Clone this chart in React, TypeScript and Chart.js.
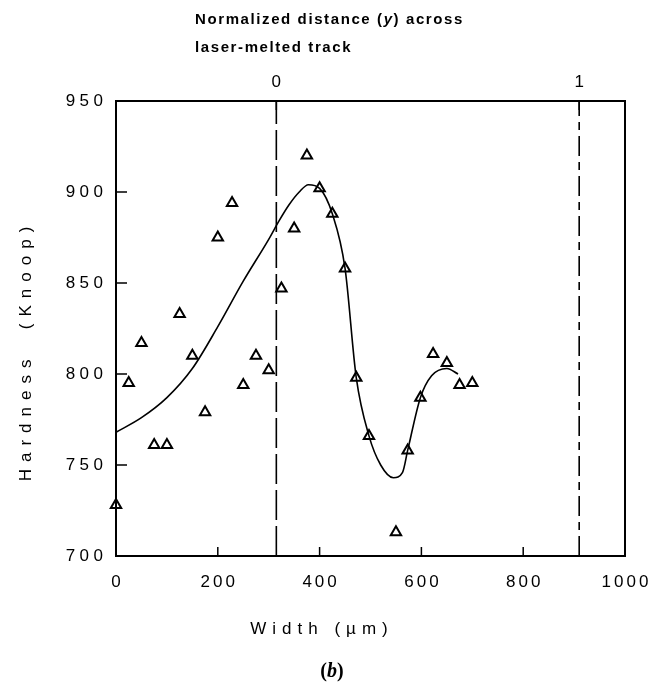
import React, { useEffect, useRef } from 'react';
import { Chart, registerables } from 'chart.js';

Chart.register(...registerables);

// Measured Knoop hardness across the laser-melted track
const widthUm = [0, 25, 50, 75, 100, 125, 150, 175, 200, 228, 250, 275, 300, 325, 350, 375, 400, 425, 450, 472, 497, 550, 573, 598, 623, 650, 675, 700];
const hardness = [728, 795, 817, 761, 761, 833, 810, 779, 875, 894, 794, 810, 802, 847, 880, 920, 902, 888, 858, 798, 766, 713, 758, 787, 811, 806, 794, 795];

// Fitted curve
const fitWidthUm = [0, 50, 100, 150, 200, 250, 300, 320, 340, 360, 378, 400, 425, 450, 472, 497, 520, 545, 563, 573, 598, 620, 650, 672];
const fitHardness = [768, 776, 787, 803, 826, 851, 874, 884, 893, 900, 904, 902, 888, 858, 798, 766, 750, 743, 746, 758, 787, 799, 803, 800];

// Track edges (normalized y = 0 and y = 1) in µm
const trackEdgeUm = [315, 910];
const normalizedTicks = [0, 1];
const normalizedTickLabels = ['0', '1'];

const xTicks = [0, 200, 400, 600, 800, 1000];
const yTicks = [700, 750, 800, 850, 900, 950];
const xMin = 0;
const xMax = 1000;
const yMin = 700;
const yMax = 950;

const SANS = '"Liberation Sans", Arial, Helvetica, sans-serif';
const SERIF = '"Liberation Serif", "Times New Roman", serif';

function spacedText(
  ctx: CanvasRenderingContext2D,
  text: string,
  x: number,
  y: number,
  spacing: number,
  align: 'left' | 'center' | 'right'
) {
  (ctx as any).letterSpacing = spacing + 'px';
  const w = ctx.measureText(text).width - spacing;
  const sx = align === 'left' ? x : align === 'center' ? x - w / 2 : x - w;
  ctx.textAlign = 'left';
  ctx.fillText(text, sx, y);
  (ctx as any).letterSpacing = '0px';
}

const framePlugin = {
  id: 'frame',
  afterDraw(chart: any) {
    const ctx: CanvasRenderingContext2D = chart.ctx;
    const { left, right, top, bottom } = chart.chartArea;
    const xs = chart.scales.x;
    const ys = chart.scales.y;
    const x2 = chart.scales.x2;
    ctx.save();
    ctx.strokeStyle = '#000';
    ctx.fillStyle = '#000';
    ctx.lineWidth = 2;
    ctx.strokeRect(left, top, right - left, bottom - top);

    // inward tick marks
    ctx.lineWidth = 1.5;
    ctx.beginPath();
    xTicks.forEach((v) => {
      if (v === xMin || v === xMax) return;
      const px = xs.getPixelForValue(v);
      ctx.moveTo(px, bottom);
      ctx.lineTo(px, bottom - 9);
    });
    yTicks.forEach((v) => {
      if (v === yMin || v === yMax) return;
      const py = ys.getPixelForValue(v);
      ctx.moveTo(left, py);
      ctx.lineTo(left + 11, py);
    });
    normalizedTicks.forEach((v) => {
      const px = x2.getPixelForValue(v);
      ctx.moveTo(px, top);
      ctx.lineTo(px, top + 9);
    });
    ctx.stroke();

    // tick labels
    ctx.textBaseline = 'middle';
    ctx.font = `17px ${SANS}`;
    xTicks.forEach((v) => {
      spacedText(ctx, String(v), xs.getPixelForValue(v), bottom + 26, 3, 'center');
    });
    yTicks.forEach((v) => {
      spacedText(ctx, String(v), left - 13, ys.getPixelForValue(v), 4.5, 'right');
    });
    normalizedTicks.forEach((v, i) => {
      spacedText(ctx, normalizedTickLabels[i], x2.getPixelForValue(v), top - 19, 0, 'center');
    });

    // axis titles
    ctx.font = `17px ${SANS}`;
    spacedText(ctx, 'Width (\u00b5m)', 319, 629, 6, 'center');
    ctx.save();
    ctx.translate(26, 354);
    ctx.rotate(-Math.PI / 2);
    spacedText(ctx, 'Hardness  (Knoop)', 0, 0, 7, 'center');
    ctx.restore();

    // top title (two lines, "y" italic)
    const sp = 1.6;
    let tx = 195;
    const ty = 20;
    const seg = (t: string, font: string) => {
      ctx.font = font;
      spacedText(ctx, t, tx, ty, sp, 'left');
      (ctx as any).letterSpacing = sp + 'px';
      tx += ctx.measureText(t).width;
      (ctx as any).letterSpacing = '0px';
    };
    seg('Normalized distance (', `bold 15px ${SANS}`);
    seg('y', `italic bold 15px ${SANS}`);
    seg(') across', `bold 15px ${SANS}`);
    ctx.font = `bold 15px ${SANS}`;
    spacedText(ctx, 'laser-melted track', 195, 48, sp, 'left');

    // panel label (b)
    ctx.font = `bold 20px ${SERIF}`;
    const p1 = ctx.measureText('(').width;
    ctx.font = `italic bold 20px ${SERIF}`;
    const p2 = ctx.measureText('b').width;
    ctx.font = `bold 20px ${SERIF}`;
    const p3 = ctx.measureText(')').width;
    let bx = 332 - (p1 + p2 + p3) / 2;
    ctx.textAlign = 'left';
    ctx.fillText('(', bx, 672);
    bx += p1;
    ctx.font = `italic bold 20px ${SERIF}`;
    ctx.fillText('b', bx, 672);
    bx += p2;
    ctx.font = `bold 20px ${SERIF}`;
    ctx.fillText(')', bx, 672);
    ctx.restore();
  },
};

export default function App() {
  const ref = useRef<HTMLCanvasElement>(null);
  useEffect(() => {
    const canvas = ref.current;
    if (!canvas) return;
    const measured = widthUm.map((x, i) => ({ x, y: hardness[i] }));
    const fit = fitWidthUm.map((x, i) => ({ x, y: fitHardness[i] }));
    const span = trackEdgeUm[1] - trackEdgeUm[0];
    const edge = (v: number) => [
      { x: v, y: yMin },
      { x: v, y: yMax },
    ];
    const chart = new Chart(canvas, {
      type: 'scatter',
      data: {
        datasets: [
          {
            label: 'Measured hardness',
            data: measured,
            pointStyle: 'triangle',
            pointRadius: 6,
            pointBorderWidth: 2,
            borderColor: '#000',
            backgroundColor: 'rgba(255,255,255,0)',
            clip: false,
          } as any,
          {
            type: 'line',
            label: 'Fit',
            data: fit,
            borderColor: '#000',
            borderWidth: 1.6,
            pointRadius: 0,
            cubicInterpolationMode: 'monotone',
            fill: false,
          } as any,
          {
            type: 'line',
            label: 'y = 0',
            data: edge(normalizedTicks[0]),
            xAxisID: 'x2',
            borderColor: '#000',
            borderWidth: 1.6,
            borderDash: [30, 6],
            pointRadius: 0,
            fill: false,
          } as any,
          {
            type: 'line',
            label: 'y = 1',
            data: edge(normalizedTicks[1]),
            xAxisID: 'x2',
            borderColor: '#000',
            borderWidth: 1.6,
            borderDash: [20, 6, 8, 6],
            pointRadius: 0,
            fill: false,
          } as any,
        ],
      },
      options: {
        responsive: false,
        animation: false,
        layout: { padding: { left: 116, right: 24, top: 101, bottom: 130 } },
        plugins: { legend: { display: false }, tooltip: { enabled: false } },
        scales: {
          x: { type: 'linear', min: xMin, max: xMax, display: false },
          x2: {
            type: 'linear',
            position: 'top',
            min: (xMin - trackEdgeUm[0]) / span,
            max: (xMax - trackEdgeUm[0]) / span,
            display: false,
          },
          y: { type: 'linear', min: yMin, max: yMax, display: false },
        },
      } as any,
      plugins: [framePlugin],
    });
    return () => chart.destroy();
  }, []);
  return (
    <div style={{ position: 'absolute', left: 0, top: 0, width: 649, height: 686, background: '#fff' }}>
      <canvas ref={ref} width={649} height={686} style={{ display: 'block', width: 649, height: 686 }} />
    </div>
  );
}
